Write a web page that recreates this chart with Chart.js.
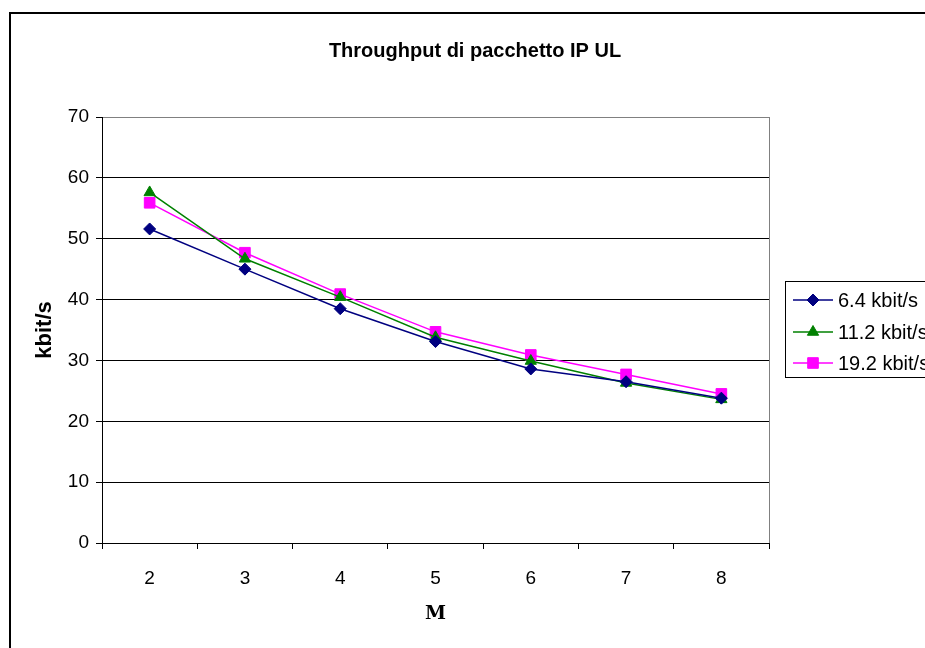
<!DOCTYPE html>
<html>
<head>
<meta charset="utf-8">
<title>Throughput di pacchetto IP UL</title>
<script src="https://cdn.jsdelivr.net/npm/chart.js@4/dist/chart.umd.min.js"></script>
<style>
  html, body { margin: 0; padding: 0; background: #fff; overflow: hidden; }
  #wrap { width: 925px; height: 648px; }
</style>
</head>
<body>
<div id="wrap"><canvas id="chart" width="925" height="648"></canvas></div>
<script>
// M values on the x axis
const labels = ['2', '3', '4', '5', '6', '7', '8'];

// throughput in kbit/s, one array per radio bearer rate
const rate64 = [51.6, 45.0, 38.5, 33.1, 28.6, 26.5, 23.8];
const rate112 = [57.6, 46.7, 40.4, 33.8, 29.9, 26.3, 23.6];
const rate192 = [55.9, 47.7, 40.9, 34.7, 30.9, 27.7, 24.5];

const seriesNames = ['6.4 kbit/s', '11.2 kbit/s', '19.2 kbit/s'];
const yTicks = [0, 10, 20, 30, 40, 50, 60, 70];

const FONT = "'Liberation Sans', Arial, sans-serif";

// white page with the outer frame (left and top edges)
const framePlugin = {
  id: 'frame',
  beforeDraw(chart) {
    const c = chart.ctx;
    c.save();
    c.fillStyle = '#fff';
    c.fillRect(0, 0, chart.width, chart.height);
    c.strokeStyle = '#000';
    c.lineWidth = 2;
    c.beginPath();
    c.moveTo(10, chart.height + 5);
    c.lineTo(10, 13);
    c.lineTo(chart.width + 5, 13);
    c.stroke();
    c.restore();
  },
  beforeDatasetsDraw(chart) {
    // grey right edge of the plot area
    const a = chart.chartArea;
    const c = chart.ctx;
    c.save();
    c.strokeStyle = '#808080';
    c.lineWidth = 1;
    c.beginPath();
    c.moveTo(Math.round(a.right) + 0.5, a.top);
    c.lineTo(Math.round(a.right) + 0.5, a.bottom);
    c.stroke();
    c.restore();
  }
};

// boxed legend to the right of the plot
const boxLegend = {
  id: 'boxLegend',
  afterDraw(chart) {
    const c = chart.ctx;
    const x0 = 785, y0 = 281, rows = [300, 332, 363];
    c.save();
    c.strokeStyle = '#000';
    c.lineWidth = 1;
    c.strokeRect(x0 + 0.5, y0 + 0.5, 200, 96);
    c.font = '20px ' + FONT;
    c.textBaseline = 'middle';
    c.textAlign = 'left';
    chart.data.datasets.forEach((ds, i) => {
      const y = rows[i];
      c.strokeStyle = ds.borderColor;
      c.lineWidth = ds.borderWidth;
      c.beginPath();
      c.moveTo(793, y);
      c.lineTo(833, y);
      c.stroke();
      c.fillStyle = ds.pointBackgroundColor;
      c.strokeStyle = ds.pointBorderColor;
      c.lineWidth = 1;
      Chart.helpers.drawPoint(c, {
        pointStyle: ds.pointStyle,
        radius: ds.pointRadius,
        rotation: 0,
        borderWidth: 1
      }, 813, y);
      c.fillStyle = '#000';
      c.fillText(ds.label, 838, y + 1);
    });
    c.restore();
  }
};

const series = [rate64, rate112, rate192];
const colors = ['#000080', '#008000', '#FF00FF'];
const styles = ['rectRot', 'triangle', 'rect'];
const radii = [6, 6.5, 7.5];

new Chart(document.getElementById('chart'), {
  type: 'line',
  data: {
    labels: labels,
    datasets: series.map((data, i) => ({
      label: seriesNames[i],
      data: data,
      yAxisID: 'y',
      borderColor: colors[i],
      borderWidth: 1.5,
      pointStyle: styles[i],
      pointRadius: radii[i],
      pointBackgroundColor: colors[i],
      pointBorderColor: colors[i],
      pointBorderWidth: 1,
      tension: 0,
      fill: false
    }))
  },
  options: {
    responsive: false,
    animation: false,
    devicePixelRatio: 1,
    layout: { padding: { left: 25, top: 12, right: 0, bottom: 0 } },
    plugins: {
      legend: { display: false },
      tooltip: { enabled: false },
      title: {
        display: true,
        text: 'Throughput di pacchetto IP UL',
        color: '#000',
        font: { family: FONT, size: 20, weight: 'bold' },
        padding: { top: 27, bottom: 54 }
      }
    },
    scales: {
      x: {
        offset: true,
        afterFit(s) { s.height = 105; },
        grid: {
          offset: true,
          drawOnChartArea: false,
          drawTicks: true,
          tickLength: 6,
          tickColor: '#000',
          color: '#000'
        },
        border: { color: '#000', width: 1 },
        ticks: {
          color: '#000',
          padding: 18,
          maxRotation: 0,
          font: { family: FONT, size: 19 }
        },
        title: {
          display: true,
          text: 'M',
          color: '#000',
          font: { family: "'DejaVu Serif', 'Liberation Serif', serif", size: 19, weight: 'bold' },
          padding: { top: 0, bottom: 23 }
        }
      },
      y: {
        min: 0,
        max: 70,
        afterFit(s) { s.width = 77; },
        afterBuildTicks(s) { s.ticks = yTicks.map(v => ({ value: v })); },
        grid: {
          color: ctx => (ctx.tick && ctx.tick.value === 70 ? '#808080' : '#000'),
          lineWidth: 1,
          drawTicks: true,
          tickLength: 6,
          tickColor: '#000'
        },
        border: { color: '#000', width: 1 },
        ticks: {
          color: '#000',
          padding: 7,
          font: { family: FONT, size: 19 }
        },
        title: {
          display: true,
          text: 'kbit/s',
          color: '#000',
          font: { family: FONT, size: 22, weight: 'bold' },
          padding: { top: 7, bottom: 0 }
        }
      },
      // empty column on the right that holds the legend box
      legendSpace: {
        type: 'linear',
        position: 'right',
        afterFit(s) { s.width = 156; },
        grid: { display: false, drawOnChartArea: false },
        border: { display: false },
        ticks: { display: false }
      }
    }
  },
  plugins: [framePlugin, boxLegend]
});
</script>
</body>
</html>
